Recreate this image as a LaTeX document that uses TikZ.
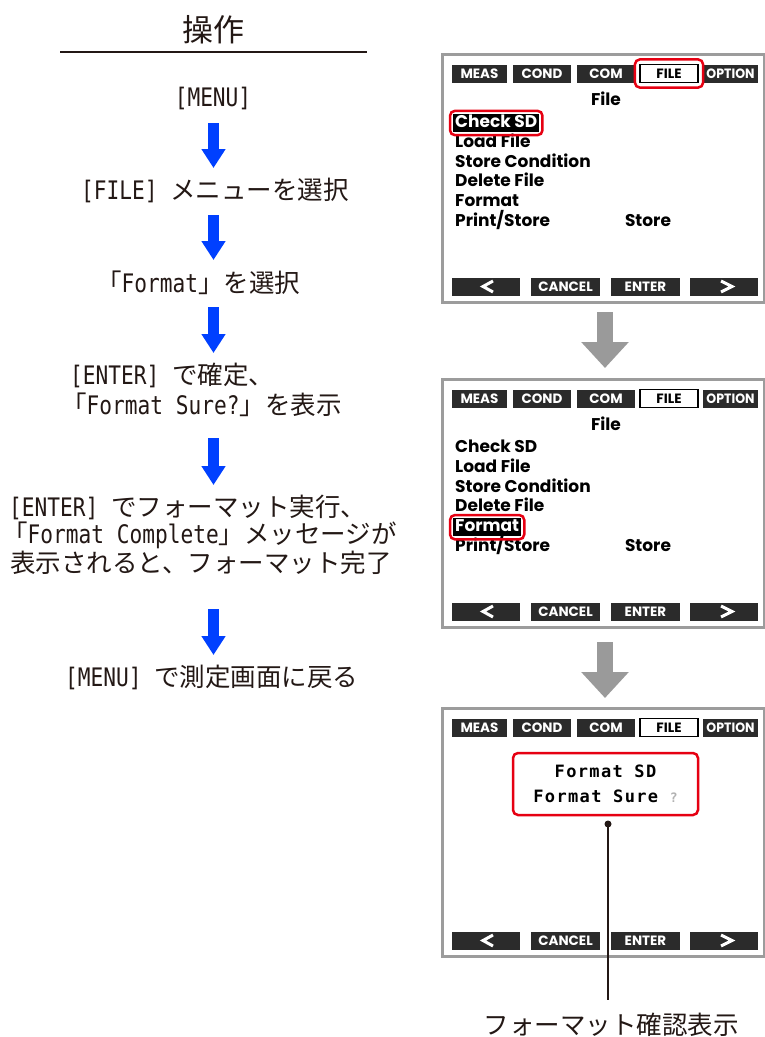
\documentclass[tikz,border=0pt]{standalone}
\usepackage{fontspec}
\usetikzlibrary{arrows.meta,fit,calc}
\newfontfamily\jpf{Noto Sans CJK JP}
\newfontfamily\latf{DejaVu Sans Mono}[FakeStretch=0.83]
\newfontfamily\scrf{Poppins}
\newfontfamily\msgfont{DejaVu Sans Mono}[LetterSpace=8]
\definecolor{ink}{HTML}{231815}
\definecolor{tabbk}{HTML}{2B2B2B}
\definecolor{frame}{HTML}{9C9C9C}
\definecolor{redb}{HTML}{E60012}
\definecolor{blu}{HTML}{0040FF}
\definecolor{garr}{HTML}{9A9A9A}
\newcommand\La[1]{{\latf #1}}
\tikzset{
  jtext/.style={font=\fontsize{25.5}{28}\jpf, text=ink, inner sep=0pt},
  bluearr/.style={draw=blu, line width=11pt, -{Triangle[width=23pt,length=19pt]}},
  grayarr/.style={draw=garr, line width=16pt, -{Triangle[width=46pt,length=26pt]}},
  frm/.style={draw=frame, line width=3pt, fill=white, inner sep=0pt},
  tab/.style={fill=tabbk, text=white, minimum height=18pt, inner sep=0pt, font=\fontsize{13.5}{13.5}\scrf\bfseries},
  tabw/.style={tab, fill=white, draw=black, line width=1.2pt, text=black},
  item/.style={anchor=west, inner xsep=2pt, inner ysep=1.5pt, text height=12pt, text depth=3pt, font=\fontsize{17}{17}\scrf\bfseries, text=black},
  hl/.style={item, fill=black, text=white},
  redbox/.style={draw=redb, line width=2.5pt, rounded corners=5pt},
  chev/.style={draw=white, line width=3pt},
}
\newcommand\screenbase[2]{%
  \node[frm, minimum width=322pt, minimum height=248pt, anchor=north west] (#1) at (441,#2) {};
  \node[tab, minimum width=55pt] (#1m) at (479.5,#2+20.5) {MEAS};
  \node[tab, minimum width=58pt] (#1c) at (542,#2+20.5) {COND};
  \node[tab, minimum width=58pt] (#1o) at (606,#2+20.5) {COM};
  \node[tabw, minimum width=58pt] (#1f) at (669,#2+20.5) {FILE};
  \node[tab, minimum width=55pt] (#1p) at (730.5,#2+20.5) {\scalebox{0.93}[1]{OPTION}};
  \node[tab, minimum width=68pt] (#1bl) at (486,#2+233.5) {};
  \node[tab, minimum width=69pt] (#1bc) at (565.5,#2+233.5) {CANCEL};
  \node[tab, minimum width=69pt] (#1be) at (645.5,#2+233.5) {ENTER};
  \node[tab, minimum width=68pt] (#1br) at (724,#2+233.5) {};
  \draw[chev] ([shift={(7pt,5.5pt)}]#1bl.center) -- ([shift={(-3pt,0pt)}]#1bl.center) -- ([shift={(7pt,-5.5pt)}]#1bl.center);
  \draw[chev] ([shift={(-3pt,5.5pt)}]#1br.center) -- ([shift={(8pt,0pt)}]#1br.center) -- ([shift={(-3pt,-5.5pt)}]#1br.center);
}
\begin{document}
\begin{tikzpicture}[x=1pt,y=-1pt]
\useasboundingbox (0,0) rectangle (765,1037);
\fill[white] (0,0) rectangle (765,1037);

% ---------- left column ----------
\node[jtext, font=\fontsize{31}{31}\jpf] (title) at (213,30) {操作};
\coordinate (rl) at (60,52);
\coordinate (rr) at (367,52);
\draw[line width=1.5pt, ink] (rl) -- (rr);

\node[jtext] (t1) at (213,98) {\La{[MENU]}};
\node[jtext] (t2) at (215,190) {\La{[FILE] }メニューを選択};
\node[jtext, anchor=west] (t3) at (96,283) {「\La{Format}」を選択};
\node[jtext, anchor=west] (t4a) at (70,375) {\La{[ENTER] }で確定、};
\node[jtext, anchor=west] (t4b) at (61,405) {「\La{Format Sure?}」を表示};
\node[jtext, anchor=west] (t5a) at (9,507) {\La{[ENTER] }でフォーマット実行、};
\node[jtext, anchor=west] (t5b) at (2,535) {「\La{Format Complete}」メッセージが};
\node[jtext, anchor=west] (t5c) at (10,563) {表示されると、フォーマット完了};
\node[jtext, anchor=west] (t6) at (65,677) {\La{[MENU] }で測定画面に戻る};

\coordinate (a1s) at (213.5,123); \coordinate (a1e) at (213.5,168);
\coordinate (a2s) at (213.5,215); \coordinate (a2e) at (213.5,260);
\coordinate (a3s) at (213.5,307); \coordinate (a3e) at (213.5,353);
\coordinate (a4s) at (213.5,438); \coordinate (a4e) at (213.5,485);
\coordinate (a5s) at (213.5,609); \coordinate (a5e) at (213.5,655);
\draw[bluearr] (a1s) -- (a1e);
\draw[bluearr] (a2s) -- (a2e);
\draw[bluearr] (a3s) -- (a3e);
\draw[bluearr] (a4s) -- (a4e);
\draw[bluearr] (a5s) -- (a5e);

% ---------- screen 1 ----------
\screenbase{s1}{53}
\node[item, anchor=center] (s1t) at (606,100.5) {File};
\node[hl] (s1i1) at (453,123) {Check SD};
\node[item] (s1i2) at (453,142.8) {Load File};
\node[item] (s1i3) at (453,162.6) {Store Condition};
\node[item] (s1i4) at (453,182.4) {Delete File};
\node[item] (s1i5) at (453,202.2) {Format};
\node[item] (s1i6) at (453,222) {Print/Store};
\node[item, anchor=center] (s1st) at (648,222) {Store};
\node[redbox, fit=(s1i1), inner sep=3pt] (s1r1) {};
\node[redbox, fit=(s1f), inner sep=4.5pt] (s1r2) {};

% ---------- screen 2 ----------
\screenbase{s2}{378}
\node[item, anchor=center] (s2t) at (606,425.5) {File};
\node[item] (s2i1) at (453,448) {Check SD};
\node[item] (s2i2) at (453,467.8) {Load File};
\node[item] (s2i3) at (453,487.6) {Store Condition};
\node[item] (s2i4) at (453,507.4) {Delete File};
\node[hl] (s2i5) at (453,527.2) {Format};
\node[item] (s2i6) at (453,547) {Print/Store};
\node[item, anchor=center] (s2st) at (648,547) {Store};
\node[redbox, fit=(s2i5), inner sep=3pt] (s2r1) {};

% ---------- screen 3 ----------
\screenbase{s3}{707}
\node[redbox, fill=white, minimum width=185pt, minimum height=62pt, align=center, inner sep=0pt,
      font=\fontsize{17}{25}\msgfont\bfseries] (msg) at (605.5,784)
      {Format SD\\Format Sure {\color{gray!60}\fontsize{13}{13}\selectfont ?}};
\node[circle, fill=ink, inner sep=0pt, minimum size=7pt] (dot) at (608,824) {};
\node[jtext] (lbl) at (611,1025) {フォーマット確認表示};
\coordinate (lend) at (608,1000);
\draw[line width=1.3pt, ink] (dot.center) -- (lend);

% ---------- gray arrows ----------
\coordinate (g1s) at (605,312); \coordinate (g1e) at (605,368);
\coordinate (g2s) at (605,642); \coordinate (g2e) at (605,698);
\draw[grayarr] (g1s) -- (g1e);
\draw[grayarr] (g2s) -- (g2e);
\end{tikzpicture}
\end{document}
